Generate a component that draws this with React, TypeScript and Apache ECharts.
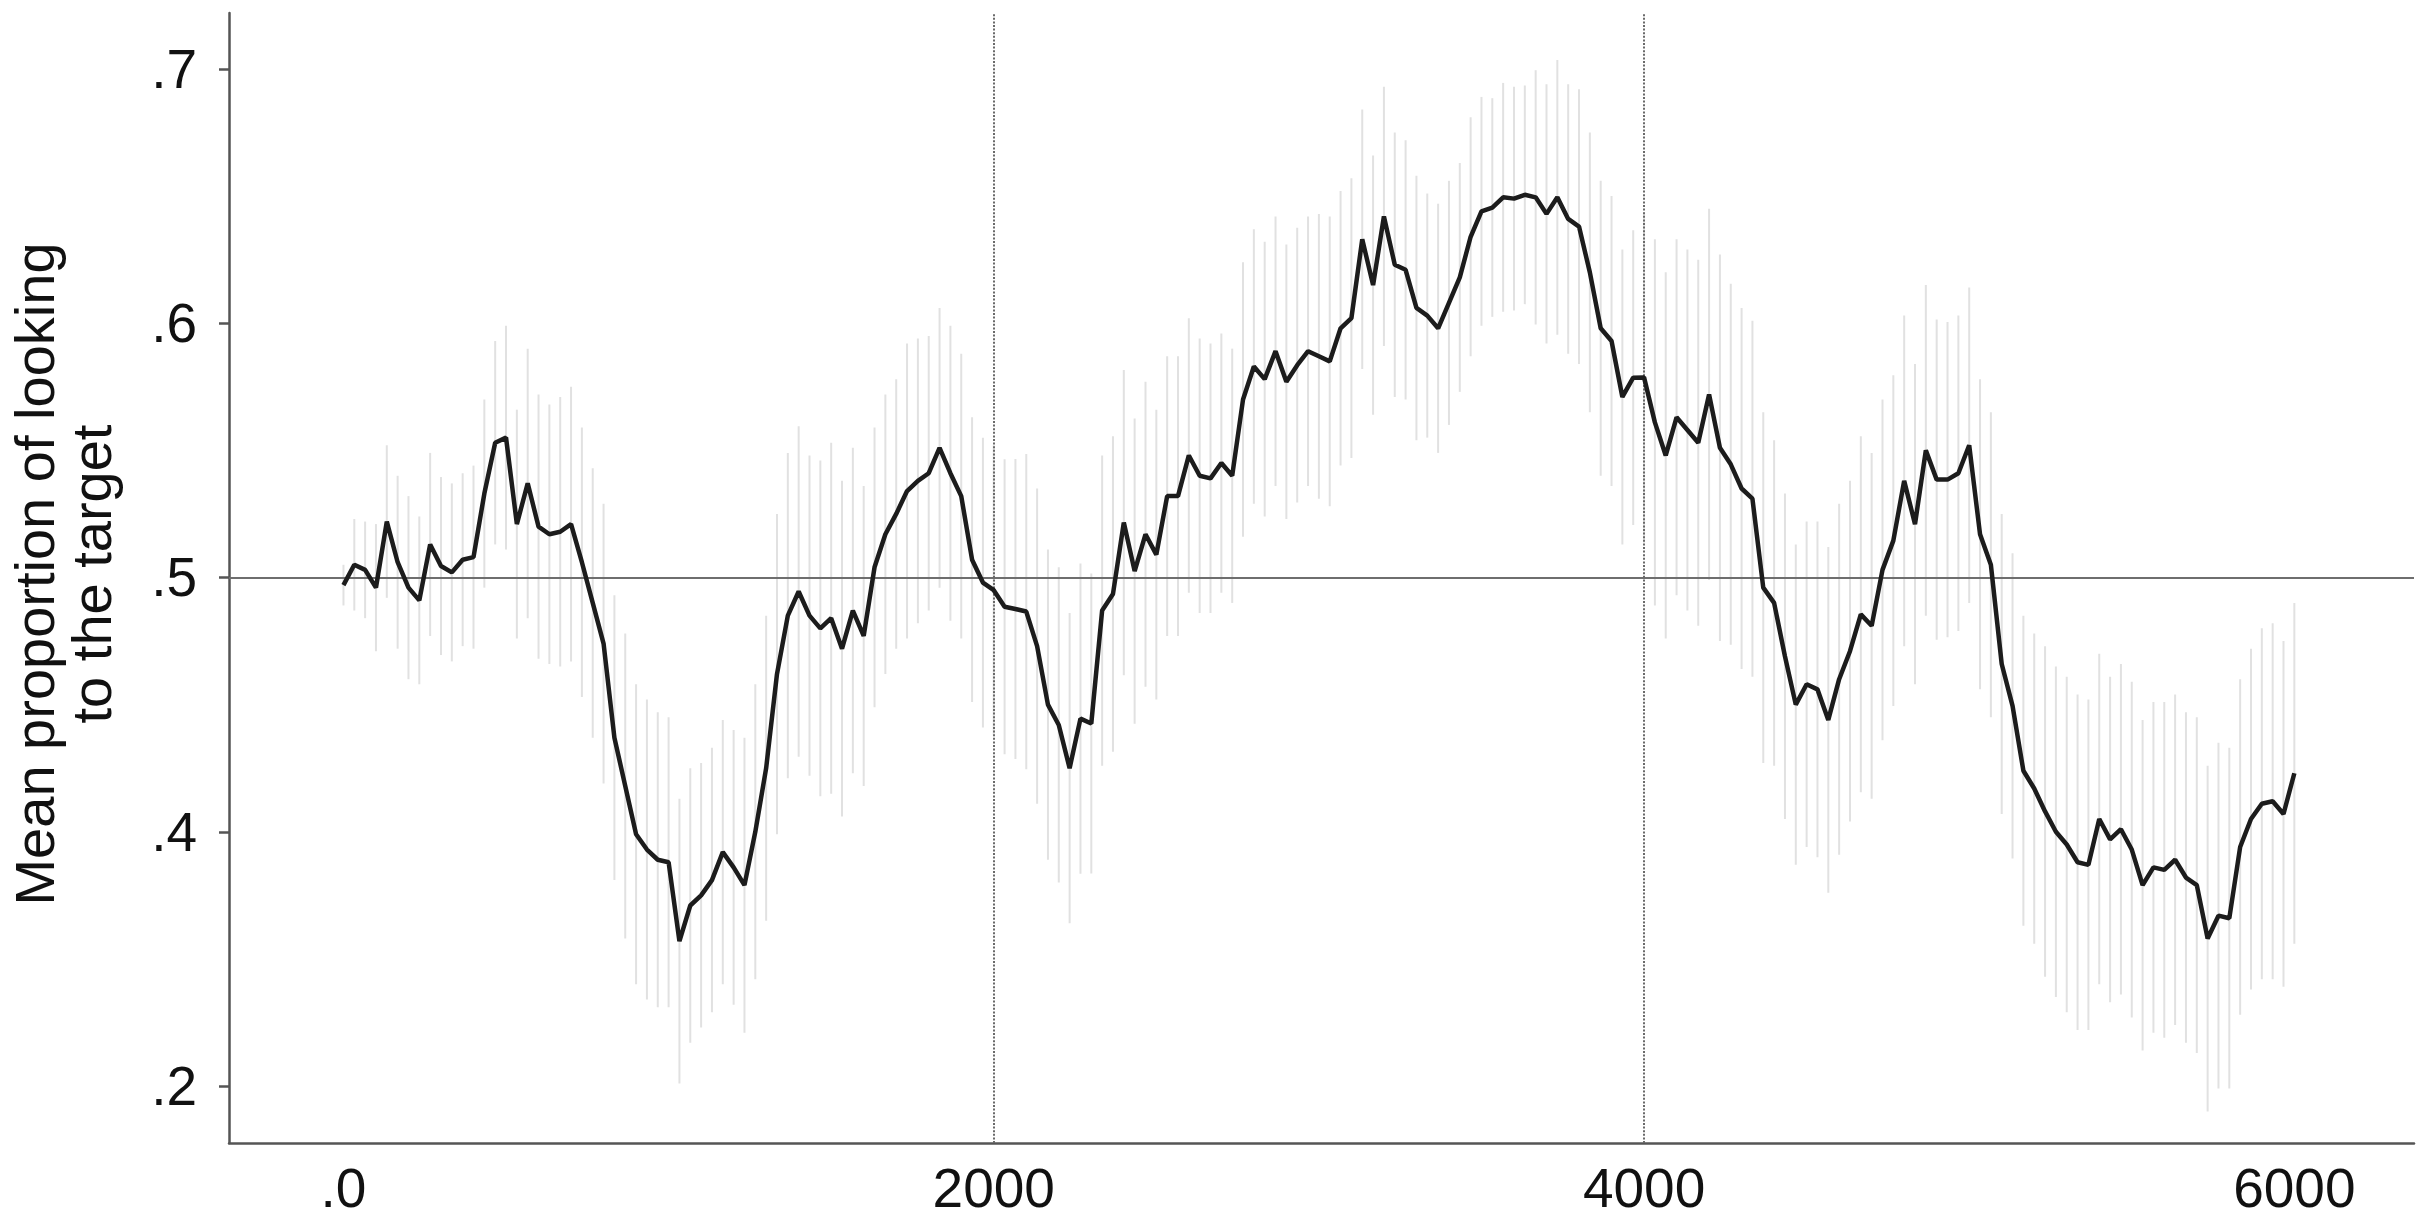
import React, { useEffect, useRef } from "react";
import * as echarts from "echarts";

// Eye-tracking samples at 30 Hz (one sample every 33.3 ms), 0 – 6000 ms
const SAMPLE_INTERVAL_MS = 1000 / 30;

// Mean proportion of looking to the target, one value per sample
const meanProportion = [
  0.497, 0.505, 0.503, 0.496, 0.522, 0.506, 0.496, 0.491, 0.513, 0.5045,
  0.502, 0.507, 0.508, 0.533, 0.553, 0.555, 0.521, 0.537, 0.52, 0.517,
  0.518, 0.521, 0.506, 0.49, 0.474, 0.437, 0.418, 0.399, 0.393, 0.389,
  0.388, 0.357, 0.371, 0.375, 0.381, 0.392, 0.386, 0.379, 0.4, 0.425,
  0.462, 0.485, 0.4945, 0.485, 0.48, 0.484, 0.472, 0.487, 0.477, 0.504,
  0.517, 0.525, 0.534, 0.538, 0.541, 0.551, 0.541, 0.532, 0.507, 0.498,
  0.495, 0.4885, 0.4876, 0.4866, 0.473, 0.45, 0.442, 0.425, 0.4445, 0.4426,
  0.487, 0.4935, 0.5216, 0.5025, 0.517, 0.509, 0.532, 0.532, 0.548, 0.54,
  0.539, 0.545, 0.54, 0.57, 0.583, 0.578, 0.589, 0.577, 0.5835, 0.589,
  0.587, 0.585, 0.598, 0.602, 0.633, 0.615, 0.642, 0.623, 0.621, 0.606,
  0.603, 0.598, 0.608, 0.618, 0.634, 0.644, 0.6455, 0.6495, 0.649, 0.6505,
  0.6495, 0.643, 0.6495, 0.641, 0.638, 0.62, 0.598, 0.593, 0.571, 0.5786,
  0.5787, 0.561, 0.548, 0.563, 0.558, 0.553, 0.572, 0.551, 0.5445, 0.535,
  0.531, 0.496, 0.49, 0.469, 0.45, 0.458, 0.456, 0.444, 0.46, 0.471,
  0.4855, 0.481, 0.503, 0.5145, 0.538, 0.521, 0.55, 0.5385, 0.5385, 0.541,
  0.552, 0.517, 0.505, 0.466, 0.4495, 0.424, 0.417, 0.408, 0.4, 0.395,
  0.388, 0.387, 0.405, 0.397, 0.401, 0.393, 0.379, 0.386, 0.385, 0.389,
  0.382, 0.379, 0.358, 0.367, 0.366, 0.394, 0.405, 0.411, 0.412, 0.407,
  0.423,
];

// Half-width of the error bar at each sample
const ciHalfWidth = [
  0.008, 0.018, 0.019, 0.025, 0.03, 0.034, 0.036, 0.033, 0.036, 0.035,
  0.035, 0.034, 0.036, 0.037, 0.04, 0.044, 0.045, 0.053, 0.052, 0.051,
  0.053, 0.054, 0.053, 0.053, 0.055, 0.056, 0.06, 0.059, 0.059, 0.058,
  0.057, 0.056, 0.054, 0.052, 0.052, 0.052, 0.054, 0.058, 0.058, 0.06,
  0.063, 0.064, 0.065, 0.063, 0.066, 0.069, 0.066, 0.064, 0.059, 0.055,
  0.055, 0.053, 0.058, 0.056, 0.054, 0.055, 0.058, 0.056, 0.056, 0.057,
  0.057, 0.058, 0.059, 0.062, 0.062, 0.061, 0.062, 0.061, 0.061, 0.059,
  0.061, 0.062, 0.06, 0.06, 0.06, 0.057, 0.055, 0.055, 0.054, 0.054,
  0.053, 0.051, 0.05, 0.054, 0.054, 0.054, 0.053, 0.054, 0.054, 0.053,
  0.056, 0.057, 0.054, 0.055, 0.051, 0.051, 0.051, 0.052, 0.051, 0.052,
  0.048, 0.049, 0.048, 0.045, 0.047, 0.045, 0.043, 0.045, 0.044, 0.043,
  0.05, 0.051, 0.054, 0.053, 0.054, 0.055, 0.058, 0.057, 0.058, 0.058,
  0.065, 0.072, 0.072, 0.07, 0.071, 0.072, 0.073, 0.076, 0.071, 0.071,
  0.07, 0.069, 0.064, 0.064, 0.063, 0.064, 0.066, 0.068, 0.069, 0.067,
  0.07, 0.068, 0.067, 0.065, 0.065, 0.063, 0.065, 0.063, 0.062, 0.062,
  0.062, 0.061, 0.06, 0.059, 0.06, 0.061, 0.061, 0.065, 0.065, 0.066,
  0.066, 0.065, 0.065, 0.064, 0.065, 0.066, 0.065, 0.065, 0.066, 0.065,
  0.065, 0.066, 0.068, 0.068, 0.067, 0.066, 0.067, 0.069, 0.07, 0.068,
  0.067,
];

const xTickValues = [0, 2000, 4000, 6000];
const xTickLabels = [".0", "2000", "4000", "6000"];
const yTickValues = [0.3, 0.4, 0.5, 0.6, 0.7];
const yTickLabels = [".2", ".4", ".5", ".6", ".7"];

const chanceLevel = 0.5;
const phaseBoundariesMs = [2000, 4000];
const yTitleLines = ["Mean proportion of looking", "to the target"];

const FONT = "'Liberation Sans', Arial, Helvetica, sans-serif";

function lookupLabel(values: number[], labels: string[]) {
  return (v: number) => {
    const k = values.findIndex((t) => Math.abs(t - v) < 1e-9);
    return k >= 0 ? labels[k] : "";
  };
}

export default function App() {
  const ref = useRef<HTMLDivElement>(null);

  useEffect(() => {
    if (!ref.current) return;
    const chart = echarts.init(ref.current, null, { renderer: "svg" });

    const times = meanProportion.map((_, i) => i * SAMPLE_INTERVAL_MS);
    const lineData = meanProportion.map((v, i) => [times[i], v]);
    const errData = meanProportion.map((v, i) => [
      times[i],
      v - ciHalfWidth[i],
      v + ciHalfWidth[i],
    ]);

    chart.setOption({
      animation: false,
      backgroundColor: "#ffffff",
      grid: { left: 229, right: 21, top: 13, bottom: 76, containLabel: false },
      xAxis: {
        type: "value",
        min: -352,
        max: 6368,
        axisLine: { show: true, onZero: false, lineStyle: { color: "#555555", width: 2.5 } },
        axisTick: { show: false },
        splitLine: { show: false },
        axisLabel: {
          customValues: xTickValues,
          formatter: lookupLabel(xTickValues, xTickLabels),
          fontSize: 55,
          fontFamily: FONT,
          color: "#111111",
          margin: 17,
        },
      },
      yAxis: {
        type: "value",
        min: 0.2776,
        max: 0.722,
        axisLine: { show: true, onZero: false, lineStyle: { color: "#555555", width: 2.5 } },
        axisTick: {
          show: true,
          length: 10,
          customValues: yTickValues,
          lineStyle: { color: "#555555", width: 2.5 },
        },
        splitLine: { show: false },
        axisLabel: {
          customValues: yTickValues,
          formatter: lookupLabel(yTickValues, yTickLabels),
          fontSize: 55,
          fontFamily: FONT,
          color: "#111111",
          margin: 32,
        },
      },
      graphic: yTitleLines.map((line, k) => ({
        type: "text",
        x: 34 + k * 57,
        y: 574,
        rotation: Math.PI / 2,
        silent: true,
        style: {
          text: line,
          fontSize: 56,
          fontFamily: FONT,
          fill: "#111111",
          align: "center",
          verticalAlign: "middle",
        },
      })),
      series: [
        {
          type: "custom",
          z: 1,
          silent: true,
          clip: true,
          encode: { x: 0, y: [1, 2] },
          data: errData,
          renderItem: (_params: any, api: any) => {
            const x = api.value(0);
            const lo = api.coord([x, api.value(1)]);
            const hi = api.coord([x, api.value(2)]);
            return {
              type: "line",
              shape: { x1: lo[0], y1: lo[1], x2: hi[0], y2: hi[1] },
              style: { stroke: "#e1e1e1", lineWidth: 2 },
            };
          },
        },
        {
          type: "line",
          z: 3,
          silent: true,
          data: [],
          markLine: {
            silent: true,
            symbol: ["none", "none"],
            label: { show: false },
            data: [
              { yAxis: chanceLevel, lineStyle: { type: "solid", color: "#6e6e6e", width: 2 } },
              ...phaseBoundariesMs.map((t) => ({
                xAxis: t,
                lineStyle: { type: [2, 1.6], color: "#6a6a6a", width: 2 },
              })),
            ],
          },
        },
        {
          type: "line",
          z: 5,
          silent: true,
          data: lineData,
          symbol: "none",
          showSymbol: false,
          lineStyle: { color: "#1c1c1c", width: 4.5 },
        },
      ],
    });

    return () => chart.dispose();
  }, []);

  return (
    <div
      ref={ref}
      style={{ position: "fixed", left: 0, top: 0, width: 2435, height: 1219, background: "#fff" }}
    />
  );
}
